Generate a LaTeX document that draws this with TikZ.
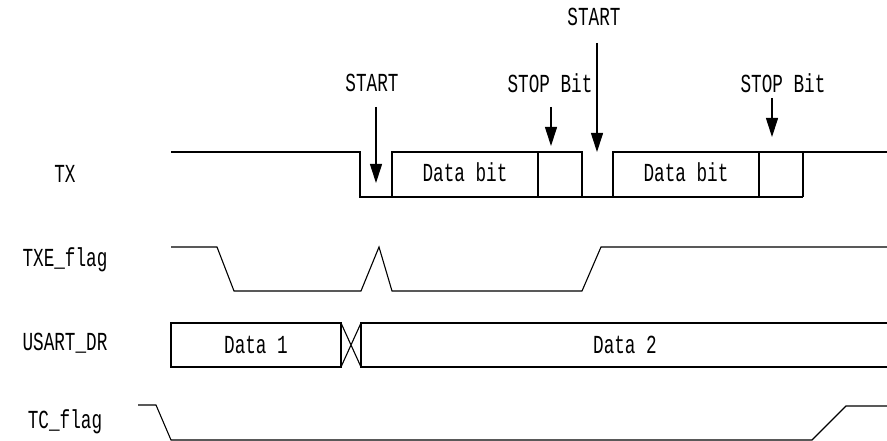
\documentclass[tikz,border=0pt]{standalone}
\usepackage{fontspec}
\newfontfamily\wavefont[FakeStretch=0.68]{Liberation Mono}
\usetikzlibrary{arrows.meta}
\tikzset{
  wave/.style={line width=1.1pt,black,line join=miter},
  pointer/.style={-{Triangle[length=19pt,width=12pt]},line width=1.1pt},
  sig/.style={font=\wavefont\fontsize{26}{30}\selectfont,inner sep=0pt,anchor=base},
}

\begin{document}
\begin{tikzpicture}[x=1pt,y=-1pt]
  \useasboundingbox (0,0) rectangle (887,441);

  % ---- Signal names ----
  \node[sig] (txname)  at (65,183) {TX};
  \node[sig] (txename) at (65,266) {TXE\_flag};
  \node[sig] (drname)  at (65,350) {USART\_DR};
  \node[sig] (tcname)  at (65,428) {TC\_flag};

  % ---- TX line ----
  \draw[wave] (171,152) -- (360,152) -- (360,197) -- (803,197);
  \draw[wave] (392,197) -- (392,152) -- (582,152) -- (582,197);
  \draw[wave] (538,152) -- (538,197);
  \draw[wave] (613,197) -- (613,152) -- (887,152);
  \draw[wave] (759,152) -- (759,197);
  \draw[wave] (803,152) -- (803,197);
  \node[sig] (bitsA) at (465,182) {Data bit};
  \node[sig] (bitsB) at (686,182) {Data bit};

  % ---- Markers above TX ----
  \node[sig] (startA) at (372,92) {START};
  \coordinate (startAtail) at (376,107);
  \coordinate (startAtip)  at (376,183);
  \draw[pointer] (startAtail) -- (startAtip);

  \node[sig] (stopA) at (550,93) {STOP Bit};
  \coordinate (stopAtail) at (551,107);
  \coordinate (stopAtip)  at (551,146);
  \draw[pointer] (stopAtail) -- (stopAtip);

  \node[sig] (startB) at (594,26) {START};
  \coordinate (startBtail) at (597,43);
  \coordinate (startBtip)  at (597,152);
  \draw[pointer] (startBtail) -- (startBtip);

  \node[sig] (stopB) at (783,93) {STOP Bit};
  \coordinate (stopBtail) at (772,98);
  \coordinate (stopBtip)  at (772,137);
  \draw[pointer] (stopBtail) -- (stopBtip);

  % ---- TXE flag ----
  \draw[wave] (171,247) -- (217,247) -- (234,291) -- (361,291) -- (379,247)
    -- (392,291) -- (582,291) -- (601,247) -- (887,247);

  % ---- USART data register ----
  \draw[wave] (171,323) rectangle (341,367);
  \draw[wave] (341,323) -- (361,367) (341,367) -- (361,323);
  \draw[wave] (887,323) -- (361,323) -- (361,367) -- (887,367);
  \node[sig] (dataA) at (256,353) {Data 1};
  \node[sig] (dataB) at (625,353) {Data 2};

  % ---- TC flag ----
  \draw[wave] (138,405) -- (156,405) -- (171,440) -- (812,440) -- (846,406)
    -- (887,406);
\end{tikzpicture}
\end{document}
